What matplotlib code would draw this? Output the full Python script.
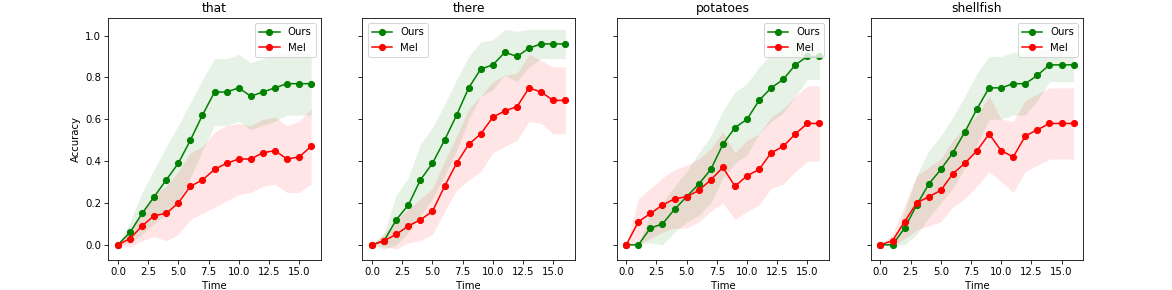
import matplotlib
matplotlib.use('Agg')
import matplotlib.pyplot as plt
from matplotlib.ticker import MultipleLocator
import numpy as np

# time steps
time = list(range(17))
words = ['that', 'there', 'potatoes', 'shellfish']

# mean accuracy and spread (std) per word
that_ours = [0, 0.06, 0.15, 0.23, 0.31, 0.39, 0.50, 0.62, 0.73, 0.73, 0.75, 0.71, 0.73, 0.75, 0.77, 0.77, 0.77]
that_ours_std = [0, 0.05, 0.10, 0.13, 0.16, 0.18, 0.18, 0.17, 0.16, 0.16, 0.16, 0.16, 0.16, 0.16, 0.15, 0.15, 0.15]
that_mel = [0, 0.03, 0.09, 0.14, 0.15, 0.20, 0.28, 0.31, 0.36, 0.39, 0.41, 0.41, 0.44, 0.45, 0.41, 0.42, 0.47]
that_mel_std = [0, 0.04, 0.07, 0.10, 0.13, 0.15, 0.16, 0.16, 0.18, 0.18, 0.17, 0.16, 0.16, 0.16, 0.16, 0.17, 0.18]

there_ours = [0, 0.02, 0.12, 0.19, 0.31, 0.39, 0.50, 0.62, 0.75, 0.84, 0.86, 0.92, 0.90, 0.94, 0.96, 0.96, 0.96]
there_ours_std = [0, 0.04, 0.12, 0.13, 0.17, 0.17, 0.17, 0.17, 0.15, 0.13, 0.12, 0.11, 0.12, 0.09, 0.07, 0.07, 0.07]
there_mel = [0, 0.02, 0.05, 0.09, 0.12, 0.16, 0.28, 0.39, 0.48, 0.53, 0.61, 0.64, 0.66, 0.75, 0.73, 0.69, 0.69]
there_mel_std = [0, 0.03, 0.07, 0.08, 0.10, 0.11, 0.12, 0.13, 0.17, 0.18, 0.17, 0.17, 0.16, 0.16, 0.15, 0.16, 0.16]

potatoes_ours = [0, 0, 0.08, 0.10, 0.17, 0.23, 0.29, 0.36, 0.48, 0.56, 0.60, 0.69, 0.75, 0.79, 0.86, 0.90, 0.90]
potatoes_ours_std = [0, 0, 0.07, 0.10, 0.11, 0.12, 0.15, 0.16, 0.16, 0.17, 0.17, 0.16, 0.16, 0.16, 0.15, 0.11, 0.11]
potatoes_mel = [0, 0.11, 0.15, 0.19, 0.22, 0.23, 0.26, 0.31, 0.37, 0.28, 0.33, 0.36, 0.44, 0.47, 0.53, 0.58, 0.58]
potatoes_mel_std = [0, 0.11, 0.12, 0.13, 0.14, 0.15, 0.15, 0.15, 0.17, 0.16, 0.17, 0.17, 0.17, 0.18, 0.18, 0.18, 0.18]

shellfish_ours = [0, 0, 0.08, 0.19, 0.29, 0.36, 0.44, 0.54, 0.65, 0.75, 0.75, 0.77, 0.77, 0.81, 0.86, 0.86, 0.86]
shellfish_ours_std = [0, 0, 0.08, 0.14, 0.16, 0.16, 0.17, 0.17, 0.17, 0.15, 0.15, 0.15, 0.15, 0.12, 0.08, 0.08, 0.08]
shellfish_mel = [0, 0.02, 0.11, 0.20, 0.23, 0.26, 0.34, 0.39, 0.45, 0.53, 0.45, 0.42, 0.52, 0.55, 0.58, 0.58, 0.58]
shellfish_mel_std = [0, 0.03, 0.08, 0.13, 0.14, 0.15, 0.16, 0.17, 0.17, 0.18, 0.15, 0.17, 0.17, 0.17, 0.17, 0.17, 0.17]

ours = [that_ours, there_ours, potatoes_ours, shellfish_ours]
ours_std = [that_ours_std, there_ours_std, potatoes_ours_std, shellfish_ours_std]
mel = [that_mel, there_mel, potatoes_mel, shellfish_mel]
mel_std = [that_mel_std, there_mel_std, potatoes_mel_std, shellfish_mel_std]
legend_locs = ['upper right', 'upper left', 'upper right', 'upper right']

fig, axes = plt.subplots(1, 4, figsize=(16, 290 / 73.25), dpi=73.25, sharey=True)
fig.subplots_adjust(left=0.0924, right=0.9243, bottom=0.1034, top=0.937, wspace=0.196)

for i, ax in enumerate(axes):
    o = np.array(ours[i])
    os_ = np.array(ours_std[i])
    m = np.array(mel[i])
    ms = np.array(mel_std[i])
    ax.plot(time, o, 'o-', color='green', label='Ours')
    ax.fill_between(time, o - os_, o + os_, color='green', alpha=0.1, linewidth=0)
    ax.plot(time, m, 'o-', color='red', label='Mel')
    ax.fill_between(time, m - ms, m + ms, color='red', alpha=0.1, linewidth=0)
    ax.xaxis.set_major_locator(MultipleLocator(2.5))
    ax.set_title(words[i])
    ax.set_xlabel('Time')
    ax.legend(loc=legend_locs[i])

axes[0].set_ylabel('Accuracy')

plt.savefig('out.png', dpi=73.25)
